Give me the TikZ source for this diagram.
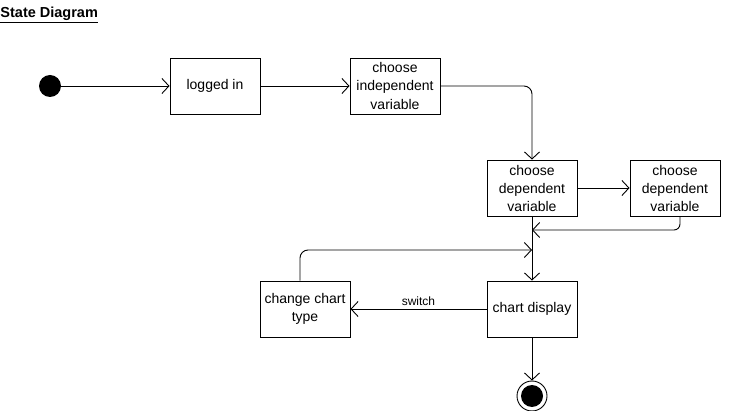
\documentclass[tikz,border=0pt]{standalone}
\usepackage{fontspec}
\setmainfont{Liberation Sans}
\usetikzlibrary{arrows.meta,positioning}
\tikzset{
    statebox/.style = {draw, minimum width=90pt, minimum height=56pt,
                       align=center, inner sep=1pt,
                       font=\fontsize{14}{18}\selectfont},
    initstate/.style = {circle, fill=black, minimum size=22pt, inner sep=0pt},
    finalstate/.style = {circle, draw, minimum size=30pt, inner sep=0pt,
                         path picture={\fill (path picture bounding box.center) circle (11pt);}},
}
\begin{document}
\begin{tikzpicture}[x=1pt,y=-1pt,->,>={Straight Barb[length=7pt,width=15pt]},
            line width=0.9pt]
            \useasboundingbox (0,0) rectangle (731,411);
            % Title
            \node[anchor=west, inner sep=0pt, font=\bfseries\fontsize{14.5}{16}\selectfont] (title) at (0,15) {\underline{State Diagram}};

            % Define the states as nodes
            \node[initstate] (start) at (50,86) {};
            \node[statebox] (login)  at (215,86) {logged in};
            \node[statebox] (indep)  at (395,86) {choose\\independent\\variable};
            \node[statebox] (depA)   at (532,188) {choose\\dependent\\variable};
            \node[statebox] (depB)   at (675,188) {choose\\dependent\\variable};
            \node[statebox] (chart)  at (532,309) {chart display};
            \node[statebox] (change) at (305,309) {change chart\\type};
            \node[finalstate] (stop) at (532,396) {};

            % Helper points for the bent lines
            \coordinate (joinA) at (532,230);
            \coordinate (joinB) at (532,250);

            % Connect the states with arrows
            \draw (start) -- (login);
            \draw (login) -- (indep);
            \draw[rounded corners=8pt] (indep.east) -| (depA.north);
            \draw (depA) -- (depB);
            \draw[rounded corners=6pt] (depB.south -| 680,0) |- (joinA);
            \draw (depA) -- (chart);
            \draw (chart) -- node[above, font=\fontsize{12}{14}\selectfont] {switch} (change);
            \draw[rounded corners=8pt] (change.north -| 300,0) |- (joinB);
            \draw (chart) -- (stop);
\end{tikzpicture}
\end{document}
